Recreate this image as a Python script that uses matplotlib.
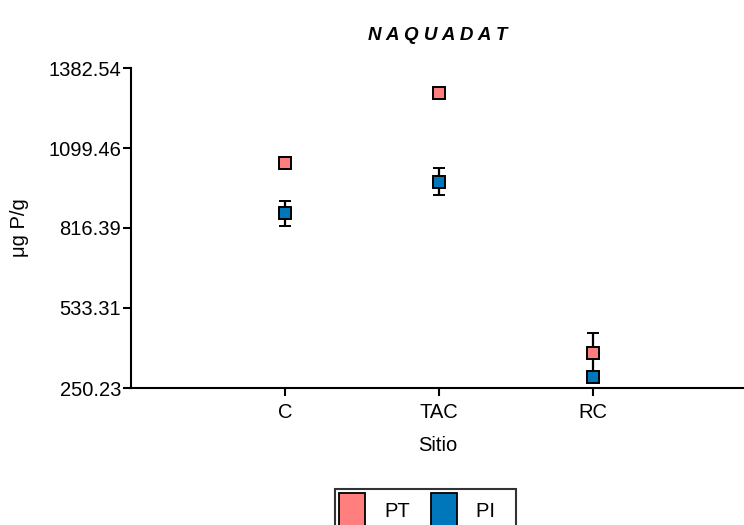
import matplotlib
matplotlib.use("Agg")
import matplotlib.pyplot as plt
from matplotlib.patches import Patch

plt.rcParams['font.family'] = ['Liberation Sans', 'DejaVu Sans']

sites = ["C", "TAC", "RC"]
pt_vals = [1045.0, 1293.0, 373.0]
pt_err = [0.0, 0.0, 71.0]
pi_vals = [868.0, 980.0, 288.0]
pi_err = [45.0, 47.0, 8.0]
yticks = [250.23, 533.31, 816.39, 1099.46, 1382.54]
ytick_labels = ["250.23", "533.31", "816.39", "1099.46", "1382.54"]
legend_labels = ["PT", "PI   "]

pt_color = "#FF7F7F"
pi_color = "#0077BB"

fig = plt.figure(figsize=(7.44, 5.25), dpi=100)
ax = fig.add_axes([131/744, 1-388/525, (744-131)/744, 320/525])

x = list(range(1, len(sites)+1))
ax.errorbar(x, pt_vals, yerr=pt_err, fmt='s', color='black', ecolor='black',
            elinewidth=1.6, capsize=4.5, capthick=1.6, markersize=9,
            markerfacecolor=pt_color, markeredgecolor='black', markeredgewidth=1.4, zorder=3)
ax.errorbar(x, pi_vals, yerr=pi_err, fmt='s', color='black', ecolor='black',
            elinewidth=1.6, capsize=4.5, capthick=1.6, markersize=9,
            markerfacecolor=pi_color, markeredgecolor='black', markeredgewidth=1.4, zorder=4)

ax.set_xlim(0, (744-131)/154)
ax.set_ylim(yticks[0], yticks[-1])
ax.set_xticks(x)
ax.set_xticklabels(sites)
ax.set_yticks(yticks)
ax.set_yticklabels(ytick_labels)
for s in ['top', 'right']:
    ax.spines[s].set_visible(False)
for s in ['left', 'bottom']:
    ax.spines[s].set_linewidth(1.5)
    ax.spines[s].set_color('black')
ax.tick_params(axis='y', direction='out', length=6, width=1.5, labelsize=14.5, pad=1)
ax.tick_params(axis='x', direction='out', length=6, width=1.5, labelsize=14.5, pad=5)
ax.set_xlabel("Sitio", fontsize=14.5, labelpad=10)
ax.set_ylabel("μg P/g", fontsize=14.5, labelpad=14)
ax.set_title("N A Q U A D A T", fontsize=13.5, fontweight='bold', fontstyle='italic', pad=20.5)

handles = [Patch(facecolor=pt_color, edgecolor='black', linewidth=1.3),
           Patch(facecolor=pi_color, edgecolor='black', linewidth=1.3)]
leg = fig.legend(handles, legend_labels, loc='upper center',
                 bbox_to_anchor=(425.5/744, 1-489/525), ncol=2, fontsize=14.5,
                 frameon=True, fancybox=False, edgecolor='black',
                 handlelength=1.3, handleheight=2.4, borderpad=0.2,
                 borderaxespad=0, columnspacing=1.0, handletextpad=0.95)
leg.get_frame().set_linewidth(1.5)

fig.savefig("out.png", dpi=100)
